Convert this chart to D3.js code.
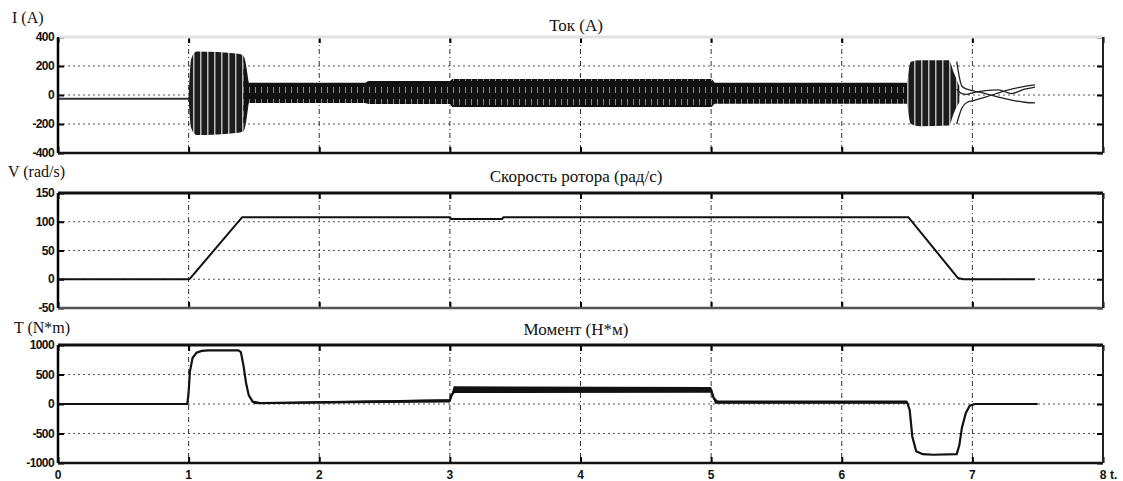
<html>
<head>
  <meta charset="utf-8">
  <script src="https://d3js.org/d3.v7.min.js"></script>
  <style>
    body { margin: 0; background: #fff; }
    .tick-label { font-family: "Liberation Sans Narrow", "Liberation Sans", sans-serif; font-weight: bold; font-size: 12px; fill: #111; }
  </style>
</head>
<body>
<script>
// ---- data ----
var timeTicks = [0, 1, 2, 3, 4, 5, 6, 7, 8];
var currentTicks = [-400, -200, 0, 200, 400];
var speedTicks = [-50, 0, 50, 100, 150];
var torqueTicks = [-1000, -500, 0, 500, 1000];

// current: idle line before start
var idleT = [0, 1.0];
var idleI = [-25, -25];
// current: envelope of the dense 3-phase oscillation
var bandT  = [1.0, 1.02, 1.06, 1.38, 1.42, 1.46, 2.35, 2.38, 3.0, 3.02, 5.0, 5.03, 6.5, 6.53, 6.6, 6.82, 6.86, 6.9];
var bandHi = [-25, 250, 300, 285, 270, 85, 85, 97, 97, 110, 110, 85, 85, 230, 240, 240, 150, 60];
var bandLo = [-25, -230, -276, -260, -250, -55, -55, -62, -62, -83, -83, -60, -60, -200, -215, -210, -120, -50];
// current: three phases decaying after stop
var tailT  = [6.88, 6.92, 6.96, 7.0, 7.1, 7.2, 7.3, 7.4, 7.48];
var phaseA = [230, 60, 40, 30, 10, -15, -35, -50, -55];
var phaseB = [-200, -90, -50, -40, -15, 15, 40, 60, 70];
var phaseC = [40, 10, 5, 15, 30, 35, 10, 40, 55];

// rotor speed
var speedT = [0, 1.0, 1.01, 1.41, 3.0, 3.01, 3.4, 3.41, 6.51, 6.89, 6.93, 7.48];
var speedV = [0, 0, 1, 108, 108, 105, 105, 108, 108, 2, 0, 0];

// torque
var torqueT = [0, 0.99, 1.0, 1.01, 1.03, 1.06, 1.1, 1.15, 1.38, 1.4, 1.42, 1.44, 1.46, 1.49, 1.55, 3.0, 3.01, 3.05, 5.0, 5.02, 5.05, 6.5, 6.52, 6.54, 6.57, 6.62, 6.7, 6.88, 6.9, 6.92, 6.95, 6.98, 7.02, 7.5];
var torqueV = [0, 0, 200, 550, 780, 870, 900, 910, 910, 880, 650, 350, 150, 40, 15, 60, 150, 240, 240, 100, 30, 30, -100, -550, -800, -850, -860, -850, -700, -400, -150, -30, 0, 0];
// torque ripple envelope
var rippleT  = [1.5, 3.0, 3.03, 5.0, 5.03, 6.5];
var rippleHi = [25, 80, 300, 290, 60, 60];
var rippleLo = [0, 25, 185, 190, 5, 5];

var W = 1123, H = 481;
var serif = "'Liberation Serif', 'Times New Roman', 'DejaVu Serif', serif";
var svg = d3.select("body").append("svg").attr("width", W).attr("height", H);

var x = d3.scaleLinear().domain([0, 8]).range([58, 1103]);

var defs = svg.append("defs");
var p1 = defs.append("pattern").attr("id", "burst").attr("patternUnits", "userSpaceOnUse")
    .attr("width", 7).attr("height", 10);
p1.append("rect").attr("width", 7).attr("height", 10).attr("fill", "#1c1c1c");
p1.append("rect").attr("x", 4).attr("width", 1.5).attr("height", 10).attr("fill", "#bbb");
var p2 = defs.append("pattern").attr("id", "band").attr("patternUnits", "userSpaceOnUse")
    .attr("width", 6).attr("height", 12);
p2.append("rect").attr("width", 6).attr("height", 12).attr("fill", "#111");
p2.append("rect").attr("x", 3).attr("y", 3).attr("width", 1).attr("height", 6).attr("fill", "#888");

var panels = [
  {ticks: currentTicks, domain: [-400, 400], range: [153, 37], label: "I (A)", lx: 12, ly: 23, title: "Ток (А)", ty: 31, top: "#e2e2e2", bottom: "#111"},
  {ticks: speedTicks, domain: [-50, 150], range: [308, 193], label: "V (rad/s)", lx: 8, ly: 177, title: "Скорость ротора (рад/с)", ty: 182, top: "#111", bottom: "#555"},
  {ticks: torqueTicks, domain: [-1000, 1000], range: [463, 345], label: "T (N*m)", lx: 14, ly: 333, title: "Момент (Н*м)", ty: 335, top: "#111", bottom: "#111"}
];

panels.forEach(function (p, i) {
  p.y = d3.scaleLinear().domain(p.domain).range(p.range);
  var g = svg.append("g");
  p.g = g;
  var x0 = x.range()[0], x1 = x.range()[1], y0 = p.range[0], y1 = p.range[1];

  defs.append("clipPath").attr("id", "clip" + i).append("rect")
    .attr("x", x0).attr("y", y1).attr("width", x1 - x0).attr("height", y0 - y1);

  // horizontal grid
  g.selectAll(".hg").data(p.ticks.slice(1, -1)).enter().append("line")
    .attr("x1", x0).attr("x2", x1)
    .attr("y1", function (d) { return p.y(d); }).attr("y2", function (d) { return p.y(d); })
    .attr("stroke", "#555").attr("stroke-width", 1).attr("stroke-dasharray", "2,3");
  // vertical grid
  g.selectAll(".vg").data(timeTicks.slice(1, -1)).enter().append("line")
    .attr("x1", function (d) { return x(d); }).attr("x2", function (d) { return x(d); })
    .attr("y1", y1).attr("y2", y0)
    .attr("stroke", "#333").attr("stroke-width", 1).attr("stroke-dasharray", "5,3,1,3");

  // axes with inward ticks
  var left = d3.axisLeft(p.y).tickValues(p.ticks).tickSize(-6).tickFormat("");
  var right = d3.axisRight(p.y).tickValues(p.ticks).tickSize(-6).tickFormat("");
  var topA = d3.axisTop(x).tickValues(timeTicks).tickSize(-6).tickFormat("");
  var botA = d3.axisBottom(x).tickValues(timeTicks).tickSize(-6).tickFormat("");
  [[left, "translate(" + x0 + ",0)"], [right, "translate(" + x1 + ",0)"],
   [topA, "translate(0," + y1 + ")"], [botA, "translate(0," + y0 + ")"]].forEach(function (a) {
    var ag = g.append("g").attr("transform", a[1]).call(a[0]);
    ag.select(".domain").remove();
    ag.selectAll(".tick line").attr("stroke", "#000").attr("stroke-width", 2);
  });

  // tick labels
  g.selectAll(".yl").data(p.ticks).enter().append("text")
    .attr("class", "tick-label")
    .attr("x", x0 - 4).attr("y", function (d) { return p.y(d) + 4; })
    .attr("text-anchor", "end").attr("letter-spacing", "-0.6")
    .text(function (d) { return d; });

  // titles
  g.append("text").attr("x", p.lx).attr("y", p.ly)
    .attr("font-family", serif).attr("font-size", 16).attr("fill", "#111").text(p.label);
  g.append("text").attr("x", 576).attr("y", p.ty)
    .attr("font-family", serif).attr("font-size", 17).attr("fill", "#111")
    .attr("text-anchor", "middle").text(p.title);

  p.plot = g.append("g").attr("clip-path", "url(#clip" + i + ")");
});

// ---- current ----
var pc = panels[0];
var curLine = d3.line().x(function (d) { return x(d[0]); }).y(function (d) { return pc.y(d[1]); });
pc.plot.append("path").datum(d3.zip(idleT, idleI)).attr("d", curLine)
  .attr("fill", "none").attr("stroke", "#333").attr("stroke-width", 2);
var bandArea = d3.area().x(function (d) { return x(d[0]); })
  .y0(function (d) { return pc.y(d[2]); }).y1(function (d) { return pc.y(d[1]); })
  .curve(d3.curveMonotoneX);
var band = d3.zip(bandT, bandHi, bandLo);
pc.plot.append("path").datum(band.filter(function (d) { return d[0] <= 1.46; }))
  .attr("d", bandArea).attr("fill", "url(#burst)");
pc.plot.append("path").datum(band.filter(function (d) { return d[0] >= 1.42 && d[0] <= 6.53; }))
  .attr("d", bandArea).attr("fill", "url(#band)");
pc.plot.append("path").datum(band.filter(function (d) { return d[0] >= 6.5; }))
  .attr("d", bandArea).attr("fill", "url(#burst)");
var tailLine = d3.line().x(function (d) { return x(d[0]); }).y(function (d) { return pc.y(d[1]); })
  .curve(d3.curveMonotoneX);
[phaseA, phaseB, phaseC].forEach(function (ph) {
  pc.plot.append("path").datum(d3.zip(tailT, ph)).attr("d", tailLine)
    .attr("fill", "none").attr("stroke", "#222").attr("stroke-width", 1.3);
});

// ---- speed ----
var ps = panels[1];
var spLine = d3.line().x(function (d) { return x(d[0]); }).y(function (d) { return ps.y(d[1]); });
ps.plot.append("path").datum(d3.zip(speedT, speedV)).attr("d", spLine)
  .attr("fill", "none").attr("stroke", "#111").attr("stroke-width", 2);

// ---- torque ----
var pt = panels[2];
var tqLine = d3.line().x(function (d) { return x(d[0]); }).y(function (d) { return pt.y(d[1]); });
var ripArea = d3.area().x(function (d) { return x(d[0]); })
  .y0(function (d) { return pt.y(d[2]); }).y1(function (d) { return pt.y(d[1]); });
pt.plot.append("path").datum(d3.zip(rippleT, rippleHi, rippleLo)).attr("d", ripArea).attr("fill", "#111");
pt.plot.append("path").datum(d3.zip(torqueT, torqueV)).attr("d", tqLine)
  .attr("fill", "none").attr("stroke", "#111").attr("stroke-width", 2.2);

// ---- frames ----
panels.forEach(function (p) {
  var x0 = x.range()[0], x1 = x.range()[1], y0 = p.range[0], y1 = p.range[1];
  p.g.append("line").attr("x1", x0).attr("x2", x1).attr("y1", y1).attr("y2", y1)
    .attr("stroke", p.top).attr("stroke-width", 3);
  p.g.append("line").attr("x1", x0).attr("x2", x1).attr("y1", y0).attr("y2", y0)
    .attr("stroke", p.bottom).attr("stroke-width", 2.5);
  p.g.append("line").attr("x1", x0).attr("x2", x0).attr("y1", y1).attr("y2", y0)
    .attr("stroke", "#000").attr("stroke-width", 2.5);
  p.g.append("line").attr("x1", x1).attr("x2", x1).attr("y1", y1).attr("y2", y0)
    .attr("stroke", "#222").attr("stroke-width", 2);
});

// x labels under the last panel
svg.selectAll(".xl").data(timeTicks).enter().append("text")
  .attr("class", "tick-label")
  .attr("x", function (d) { return x(d); }).attr("y", 479)
  .attr("text-anchor", "middle")
  .text(function (d) { return d; });
svg.append("text").attr("class", "tick-label").attr("x", x(8) + 7).attr("y", 479).text("t.");
</script>
</body>
</html>
